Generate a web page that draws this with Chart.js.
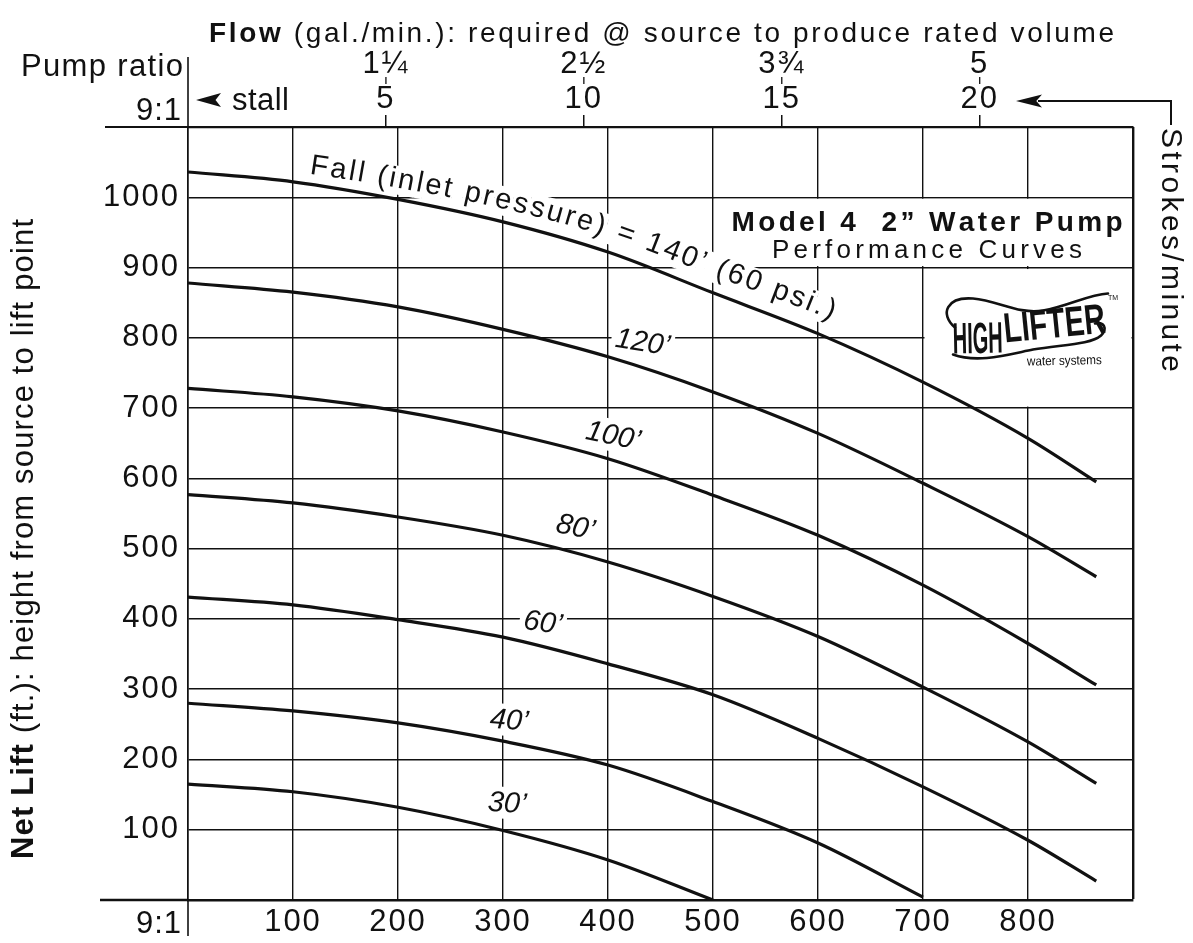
<!DOCTYPE html>
<html><head><meta charset="utf-8">
<script src="https://cdn.jsdelivr.net/npm/chart.js@4.4.1/dist/chart.umd.min.js"></script>
<style>html,body{margin:0;padding:0;background:#fff;overflow:hidden}#c{display:block}</style>
</head><body>
<canvas id="c" width="1193" height="943"></canvas>
<script>
const FONT = '"Liberation Sans", Arial, Helvetica, sans-serif';
const NARROW = '"Liberation Sans Narrow", "Liberation Sans", Arial, sans-serif';
const INK = '#111';

// ---- data ----
const flow    = [0, 100, 200, 300, 400, 500, 600, 700, 800, 865];   // bottom axis values
const lift140 = [1036, 1022, 997, 965, 922, 864, 806, 737, 657, 595];
const lift120 = [878, 865, 844, 812, 773, 723, 664, 593, 517, 460];
const lift100 = [728, 716, 696, 666, 628, 576, 519, 448, 365, 306];
const lift80  = [577, 565, 545, 519, 481, 432, 375, 303, 225, 166];
const lift60  = [431, 420, 399, 374, 336, 292, 230, 161, 85, 27];
const lift40  = [280, 269, 252, 226, 192, 140, 81, 4];
const lift30  = [165, 154, 132, 99, 57, 0];
const seriesNames = ["140'", "120'", "100'", "80'", "60'", "40'", "30'"];
const seriesValues = [lift140, lift120, lift100, lift80, lift60, lift40, lift30];

const strokeTicks = [5, 10, 15, 20];              // strokes / minute (top axis)
const gpmLabels   = ['1¼', '2½', '3¾', '5'];       // gal./min. above strokes
const flowPerStroke = 37.7;                        // top-axis scale factor
const xMax = 900, yMax = 1100;

// curve annotations (data coordinates)
const curveLabels = [
  { text: '120’', flow: 433, lift: 794, angle: 9 },
  { text: '100’', flow: 405, lift: 661, angle: 12 },
  { text: '80’',  flow: 369, lift: 531, angle: 12 },
  { text: '60’',  flow: 338, lift: 395, angle: 8 },
  { text: '40’',  flow: 306, lift: 256, angle: 5 },
  { text: '30’',  flow: 304, lift: 138, angle: 4 }
];
const fallText = 'Fall (inlet pressure) = 140’ (60 psi.)';
const fallFrom = 114, fallTo = 606;
const titleBox = { x0: 500, x1: 900, y0: 900, y1: 1000 };
const logoBox  = { x0: 700, x1: 900, y0: 700, y1: 900 };

// ---- helpers ----
function line(c, x1, y1, x2, y2) { c.beginPath(); c.moveTo(x1, y1); c.lineTo(x2, y2); c.stroke(); }
function drawRun(c, segs, size, x, y, o) {
  o = o || {};
  const run = [];
  for (const s of segs) {
    const font = (s.style || '') + ' ' + (s.weight || 'normal') + ' ' + size + 'px ' + FONT;
    c.font = font;
    for (const ch of s.text) run.push({ ch, font, w: c.measureText(ch).width });
  }
  const nat = run.reduce((a, r) => a + r.w, 0);
  const sp = o.width != null ? (o.width - nat) / (run.length - 1) : (o.spacing || 0);
  const total = nat + sp * (run.length - 1);
  c.save();
  c.letterSpacing = '0px';
  c.translate(x, y);
  if (o.angle) c.rotate(o.angle);
  c.textBaseline = o.baseline || 'alphabetic';
  c.textAlign = 'left';
  let cx = o.align === 'center' ? -total / 2 : o.align === 'right' ? -total : 0;
  for (const r of run) { c.font = r.font; c.fillText(r.ch, cx, 0); cx += r.w + sp; }
  c.restore();
}
function fitText(c, text, font, x, y, w, angle) {
  c.save(); c.font = font; const nat = c.measureText(text).width;
  c.translate(x, y); if (angle) c.rotate(angle); c.scale(w / nat, 1);
  c.textBaseline = 'alphabetic'; c.textAlign = 'left'; c.fillText(text, 0, 0); c.restore();
}
function arrowLeft(c, tx, ty, len, half) {
  c.beginPath(); c.moveTo(tx, ty); c.lineTo(tx + len, ty - half); c.lineTo(tx + len * 0.78, ty);
  c.lineTo(tx + len, ty + half); c.closePath(); c.fill();
}
function curvePath(xs, ys, vals) {
  const p = vals.map((v, i) => ({ x: xs.getPixelForValue(flow[i]), y: ys.getPixelForValue(v) }));
  const out = [];
  for (let i = 0; i < p.length - 1; i++) {
    const p0 = p[Math.max(i - 1, 0)], p1 = p[i], p2 = p[i + 1], p3 = p[Math.min(i + 2, p.length - 1)];
    for (let k = 0; k < 20; k++) {
      const t = k / 20, t2 = t * t, t3 = t2 * t;
      const f = (a, b, cc, d) => 0.5 * ((2 * b) + (-a + cc) * t + (2 * a - 5 * b + 4 * cc - d) * t2 + (-a + 3 * b - 3 * cc + d) * t3);
      out.push({ x: f(p0.x, p1.x, p2.x, p3.x), y: f(p0.y, p1.y, p2.y, p3.y) });
    }
  }
  out.push(p[p.length - 1]);
  let s = 0; out[0].s = 0;
  for (let i = 1; i < out.length; i++) { s += Math.hypot(out[i].x - out[i - 1].x, out[i].y - out[i - 1].y); out[i].s = s; }
  return out;
}
function at(path, s) {
  s = Math.max(0, Math.min(s, path[path.length - 1].s));
  for (let i = 1; i < path.length; i++) {
    if (path[i].s >= s) {
      const a = path[i - 1], b = path[i], t = (s - a.s) / ((b.s - a.s) || 1);
      return { x: a.x + (b.x - a.x) * t, y: a.y + (b.y - a.y) * t };
    }
  }
  return path[path.length - 1];
}
function sAtX(path, x) {
  for (let i = 1; i < path.length; i++) if (path[i].x >= x) {
    const a = path[i - 1], b = path[i], t = (x - a.x) / ((b.x - a.x) || 1); return a.s + (b.s - a.s) * t;
  }
  return path[path.length - 1].s;
}

const annot = {
  id: 'annot',
  beforeDraw(chart) {
    const c = chart.ctx;
    c.save(); c.fillStyle = '#fff'; c.fillRect(0, 0, chart.width, chart.height); c.restore();
    c.letterSpacing = '2px';
  },
  beforeDatasetsDraw(chart) {
    const c = chart.ctx, xs = chart.scales.x, ys = chart.scales.y;
    const X = v => xs.getPixelForValue(v), Y = v => ys.getPixelForValue(v);
    c.save();
    c.letterSpacing = '0px';
    // white boxes over the grid
    c.fillStyle = '#fff';
    for (const b of [titleBox, logoBox]) {
      c.fillRect(X(b.x0) + 1.5, Y(b.y1) + 1.5, X(b.x1) - X(b.x0) - 3, Y(b.y0) - Y(b.y1) - 3);
    }
    // title box text
    c.fillStyle = INK;
    const cx = (X(titleBox.x0) + X(titleBox.x1)) / 2 + 4;
    drawRun(c, [{ text: 'Model 4  2” Water Pump', weight: 'bold' }], 28, cx, Y(titleBox.y1) + 34, { width: 391, align: 'center' });
    drawRun(c, [{ text: 'Performance Curves' }], 26, cx, Y(titleBox.y1) + 61, { width: 310, align: 'center' });
    // logo
    const ox = X(logoBox.x0), oy = Y(logoBox.y1);
    c.strokeStyle = INK; c.lineWidth = 2.6; c.lineCap = 'round';
    c.beginPath(); c.moveTo(ox + 32, oy + 60);
    c.bezierCurveTo(ox + 16, oy + 46, ox + 24, oy + 29, ox + 50, oy + 31);
    c.bezierCurveTo(ox + 75, oy + 33, ox + 95, oy + 47, ox + 120, oy + 43);
    c.bezierCurveTo(ox + 145, oy + 39, ox + 165, oy + 27, ox + 185, oy + 26);
    c.stroke();
    c.beginPath(); c.moveTo(ox + 30, oy + 87);
    c.bezierCurveTo(ox + 55, oy + 96, ox + 85, oy + 87, ox + 110, oy + 82);
    c.bezierCurveTo(ox + 140, oy + 77, ox + 168, oy + 77, ox + 178, oy + 68);
    c.bezierCurveTo(ox + 185, oy + 61, ox + 181, oy + 54, ox + 172, oy + 56);
    c.stroke();
    c.fillStyle = INK;
    fitText(c, 'HIGH', 'bold 44px ' + NARROW, ox + 30, oy + 86, 50, -0.02);
    fitText(c, 'LIFTER', 'bold 42px ' + NARROW, ox + 82, oy + 75, 102, -0.1);
    fitText(c, 'water systems', '13px ' + NARROW, ox + 104, oy + 98, 75, -0.02);
    c.font = '7px ' + FONT; c.fillText('TM', ox + 185, oy + 32);
    // curve labels
    c.font = 'italic 29px ' + FONT;
    for (const L of curveLabels) {
      c.save(); c.translate(X(L.flow), Y(L.lift)); c.rotate(L.angle * Math.PI / 180);
      const w = c.measureText(L.text).width;
      c.fillStyle = '#fff'; c.fillRect(-w / 2 - 4, -16, w + 8, 32);
      c.fillStyle = INK; c.textAlign = 'center'; c.textBaseline = 'middle'; c.fillText(L.text, 0, 1);
      c.restore();
    }
    // text along the 140' curve
    const path = curvePath(xs, ys, lift140);
    const s0 = sAtX(path, X(fallFrom)), s1 = sAtX(path, X(fallTo));
    c.font = '29px ' + FONT;
    const chars = [...fallText].map(ch => ({ ch, w: c.measureText(ch).width }));
    const nat = chars.reduce((a, r) => a + r.w, 0);
    const sp = (s1 - s0 - nat) / (chars.length - 1);
    const placed = [];
    let s = s0;
    for (const r of chars) {
      const mid = s + r.w / 2;
      const pa = at(path, mid - 12), pb = at(path, mid + 12), pm = at(path, mid);
      const ang = Math.atan2(pb.y - pa.y, pb.x - pa.x);
      const u = (mid - s0) / (s1 - s0);
      const off = 10 + 8 * u;
      placed.push({ r, x: pm.x + Math.sin(ang) * off, y: pm.y - Math.cos(ang) * off, ang });
      s += r.w + sp;
    }
    for (const p of placed) {
      c.save(); c.translate(p.x, p.y); c.rotate(p.ang);
      c.fillStyle = '#fff'; c.fillRect(-p.r.w / 2 - 1.5, -22, p.r.w + 3, 29); c.restore();
    }
    c.fillStyle = INK; c.textAlign = 'center'; c.textBaseline = 'alphabetic';
    for (const p of placed) {
      c.save(); c.translate(p.x, p.y); c.rotate(p.ang); c.fillText(p.r.ch, 0, 0); c.restore();
    }
    c.restore();
  },
  afterDraw(chart) {
    const c = chart.ctx, a = chart.chartArea;
    c.save();
    c.letterSpacing = '0px';
    c.strokeStyle = INK; c.fillStyle = INK;
    // axis line extensions
    c.lineWidth = 2.2; line(c, 105, a.top, a.left, a.top);
    c.lineWidth = 2.4; line(c, 100, a.bottom, a.left, a.bottom);
    c.lineWidth = 1.6; line(c, a.left, 57, a.left, a.top); line(c, a.left, a.bottom, a.left, 936);
    // top title
    drawRun(c, [{ text: 'Flow', weight: 'bold' }, { text: ' (gal./min.): required @ source to produce rated volume' }], 28, 209, 42, { width: 905 });
    drawRun(c, [{ text: 'Pump ratio' }], 31, 183, 76, { width: 162, align: 'right' });
    drawRun(c, [{ text: '9:1' }], 31, 181, 120, { align: 'right', spacing: 1 });
    drawRun(c, [{ text: 'stall' }], 31, 232, 110, { width: 57 });
    arrowLeft(c, 196, 100, 25, 7);
    drawRun(c, [{ text: '9:1' }], 31, 181, 933, { align: 'right', spacing: 1 });
    // separators between gal/min and strokes labels
    const x2 = chart.scales.x2; c.lineWidth = 1.3;
    strokeTicks.forEach(v => { const px = x2.getPixelForValue(v); line(c, px, 77, px, 84); });
    // strokes/minute pointer
    c.lineWidth = 2; c.beginPath(); c.moveTo(1171, 125); c.lineTo(1171, 101); c.lineTo(1038, 101); c.stroke();
    arrowLeft(c, 1016, 101, 26, 6.5);
    drawRun(c, [{ text: 'Strokes/minute' }], 30, 1170, 128, { width: 244, angle: Math.PI / 2, baseline: 'middle' });
    // y title
    drawRun(c, [{ text: 'Net Lift', weight: 'bold' }, { text: ' (ft.): height from source to lift point' }], 31, 24, 539,
      { width: 640, align: 'center', angle: -Math.PI / 2, baseline: 'middle' });
    c.restore();
  }
};

const tickFont = { family: FONT, size: 31, lineHeight: 1.2 };
new Chart(document.getElementById('c').getContext('2d'), {
  type: 'line',
  data: {
    datasets: seriesValues.map((vals, k) => ({
      label: seriesNames[k],
      data: vals.map((v, i) => ({ x: flow[i], y: v })),
      borderColor: INK, borderWidth: 3.2, pointRadius: 0, fill: false,
      cubicInterpolationMode: 'monotone', borderCapStyle: 'butt'
    }))
  },
  options: {
    responsive: false, animation: false, devicePixelRatio: 1,
    layout: { padding: { left: 0, right: 60, top: 0, bottom: 0 } },
    plugins: { legend: { display: false }, tooltip: { enabled: false } },
    scales: {
      x: {
        type: 'linear', position: 'bottom', min: 0, max: xMax,
        ticks: { stepSize: 100, autoSkip: false, maxRotation: 0, color: INK, font: tickFont, padding: 4,
          callback: v => (v === 0 || v === xMax) ? '' : String(v) },
        grid: { color: INK, drawTicks: false, lineWidth: ctx => (ctx.tick && ctx.tick.value === xMax) ? 2.4 : 1.4 },
        border: { display: true, color: INK, width: 2.4 },
        afterFit: s => { s.height = 43; }
      },
      x2: {
        type: 'linear', position: 'top', min: 0, max: xMax / flowPerStroke,
        afterBuildTicks: s => { s.ticks = strokeTicks.map(v => ({ value: v })); },
        ticks: { autoSkip: false, maxRotation: 0, color: INK, padding: -2,
          font: { family: FONT, size: 31, lineHeight: 1.13 },
          callback: v => { const i = strokeTicks.indexOf(v); return i < 0 ? '' : [gpmLabels[i], String(v)]; } },
        grid: { drawOnChartArea: false, drawTicks: true, tickLength: 12, color: INK, lineWidth: 1.5 },
        border: { display: true, color: INK, width: 2.2 },
        afterFit: s => { s.height = 127; }
      },
      y: {
        type: 'linear', position: 'left', min: 0, max: yMax,
        ticks: { stepSize: 100, autoSkip: false, color: INK, font: tickFont, padding: 8,
          callback: v => (v === 0 || v === yMax) ? '' : String(v) },
        grid: { color: INK, drawTicks: false, lineWidth: 1.4 },
        border: { display: true, color: INK, width: 1.6 },
        afterFit: s => { s.width = 188; }
      }
    }
  },
  plugins: [annot]
});
</script>
</body></html>
